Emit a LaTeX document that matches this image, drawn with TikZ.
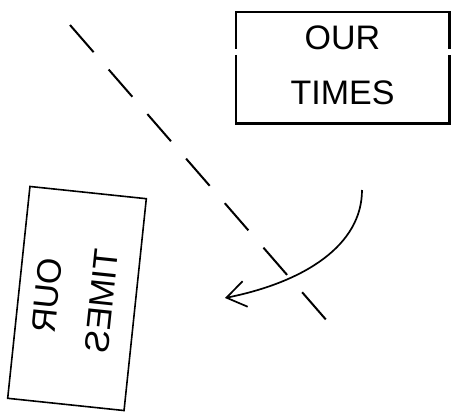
\documentclass[tikz,border=0pt]{standalone}
\usepackage{fontspec}
\setmainfont{Liberation Sans}
\usetikzlibrary{arrows.meta}
\tikzset{
  timesbox/.style={
    font=\fontsize{34}{55}\selectfont,
    align=center,
    minimum width=213pt,
    minimum height=111pt,
    inner sep=0pt,
    text depth=5.5pt
  },
  boxedge/.style={
    line width=2.6pt
  },
  mirrorbox/.style={
    timesbox,
    draw,
    line width=1.6pt,
    minimum height=117pt,
    rotate=84,
    xscale=-1,
    transform shape
  },
  mirrorline/.style={
    line width=2pt,
    dash pattern=on 36pt off 23pt
  },
  turnarrow/.style={
    -{Straight Barb[length=19pt,width=26pt]},
    line width=1.7pt
  }
}

\begin{document}
\begin{tikzpicture}[x=1pt,y=-1pt]
    \useasboundingbox (0,0) rectangle (451,413);

    \node[timesbox] (orig) at (342.5,67.5) {OUR\\TIMES};
    \draw[boxedge] ([yshift=-37pt]orig.north west) -- (orig.north west)
        -- (orig.north east) -- ([yshift=-37pt]orig.north east);
    \draw[boxedge] ([yshift=-43pt]orig.north west) -- (orig.south west)
        -- (orig.south east) -- ([yshift=-43pt]orig.north east);

    \node[mirrorbox] (mirrored) at (77,298.5) {OUR\\TIMES};

    \coordinate (linetop) at (70,25);
    \coordinate (linebottom) at (328,322);
    \draw[mirrorline] (linetop) -- (linebottom);

    \coordinate (turnstart) at (362,190);
    \coordinate (turnend) at (225,298);
    \draw[turnarrow] (turnstart) .. controls (362,245) and (305,282) .. (turnend);
\end{tikzpicture}
\end{document}
